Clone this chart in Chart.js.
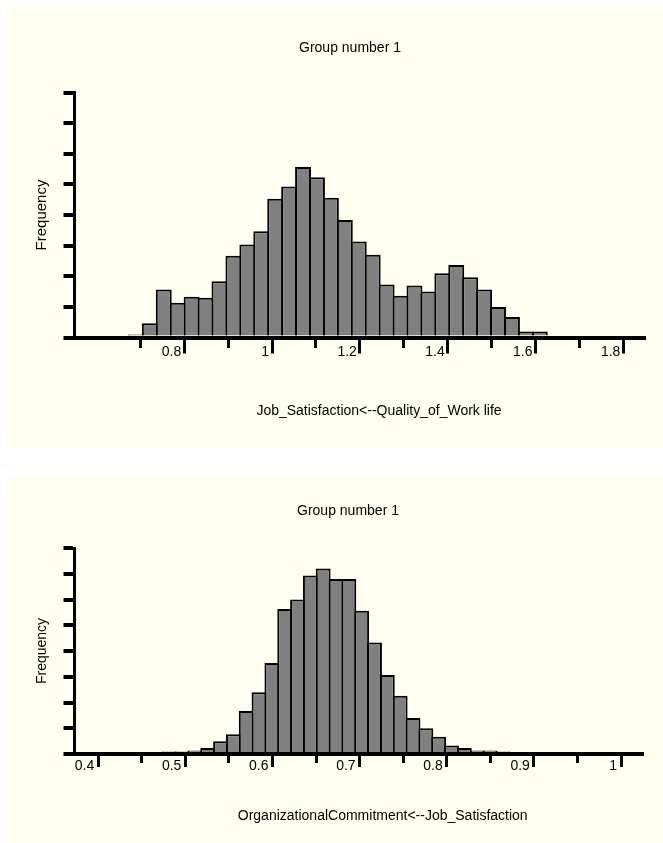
<!DOCTYPE html>
<html>
<head>
<meta charset="utf-8">
<title>Group number 1</title>
<script src="https://cdn.jsdelivr.net/npm/chart.js@4.4.1/dist/chart.umd.min.js"></script>
<style>
  html, body { margin: 0; padding: 0; background: #fff; }
  body { width: 663px; height: 843px; position: relative; overflow: hidden; }
  .panel { position: absolute; left: 7px; width: 656px; background: #fffff0; }
  #panel1 { top: 8px; height: 439px; }
  #panel2 { top: 477px; height: 366px; }
  canvas { display: block; }
</style>
</head>
<body>
<div class="panel" id="panel1"><canvas id="chart1" width="656" height="439"></canvas></div>
<div class="panel" id="panel2"><canvas id="chart2" width="656" height="366"></canvas></div>
<script>
// shared texts
const groupTitle = 'Group number 1';
const yTitle = 'Frequency';
const yTicks = [0, 30, 60, 90, 120, 150, 180, 210, 240];

// histogram 1
const xTitle1 = 'Job_Satisfaction<--Quality_of_Work life';
const binStart1 = 0.674;
const binWidth1 = 0.03172;
const freq1 = [3, 14, 47, 34, 40, 39, 55, 80, 91, 104, 136, 148, 167, 157, 137,
               115, 94, 81, 52, 41, 51, 45, 63, 71, 59, 47, 30, 20, 6, 6];
const xTicks1 = [0.7, 0.8, 0.9, 1.0, 1.1, 1.2, 1.3, 1.4, 1.5, 1.6, 1.7, 1.8];
const xTickLabels1 = ['', '0.8', '', '1', '', '1.2', '', '1.4', '', '1.6', '', '1.8'];

// histogram 2
const xTitle2 = 'OrganizationalCommitment<--Job_Satisfaction';
const binStart2 = 0.4593;
const binWidth2 = 0.01473;
const freq2 = [2, 3, 3, 4, 7, 15, 23, 50, 72, 106, 169, 180, 208, 216, 204,
               204, 167, 130, 92, 68, 42, 30, 20, 10, 7, 4, 4, 3, 2, 2];
const xTicks2 = [0.4, 0.45, 0.5, 0.55, 0.6, 0.65, 0.7, 0.75, 0.8, 0.85, 0.9, 0.95, 1.0];
const xTickLabels2 = ['0.4', '', '0.5', '', '0.6', '', '0.7', '', '0.8', '', '0.9', '', '1'];

Chart.defaults.font.family = '"Liberation Sans", Arial, Helvetica, sans-serif';
Chart.defaults.color = '#000';

// title above the plot and axis caption below it (not centred on the plot area in the original)
const panelTitles = {
    id: 'panelTitles',
    afterDraw(chart, args, opts) {
        const { ctx, chartArea } = chart;
        const mid = (chartArea.left + chartArea.right) / 2;
        ctx.save();
        ctx.fillStyle = '#000';
        ctx.font = '14px "Liberation Sans", Arial, sans-serif';
        ctx.textAlign = 'center';
        ctx.textBaseline = 'alphabetic';
        ctx.fillText(opts.top, mid + opts.topDx, chartArea.top - opts.topGap);
        ctx.fillText(opts.bottom, mid + opts.bottomDx, chartArea.bottom + opts.bottomGap);
        ctx.restore();
    }
};

function makeHistogram(canvasId, s) {
    const points = s.freq.map((f, i) => ({ x: s.binStart + (i + 0.5) * s.binWidth, y: f }));

    return new Chart(document.getElementById(canvasId), {
        type: 'bar',
        data: {
            datasets: [{
                data: points,
                backgroundColor: '#808080',
                borderColor: '#000',
                borderWidth: { top: 2, left: 2, right: 2, bottom: 0 },
                borderSkipped: 'start',
                barPercentage: s.barPercentage,
                categoryPercentage: 1,
            }],
        },
        options: {
            responsive: false,
            animation: false,
            events: [],
            layout: { padding: s.padding },
            plugins: {
                legend: { display: false },
                tooltip: { enabled: false },
                panelTitles: s.titles,
            },
            scales: {
                x: {
                    type: 'linear',
                    min: s.min,
                    max: s.max,
                    offset: false,
                    afterBuildTicks: (scale) => {
                        scale.ticks = s.xTicks.map(v => ({ value: v }));
                    },
                    grid: {
                        offset: false,
                        drawOnChartArea: false,
                        tickLength: s.tickLength,
                        tickWidth: 3,
                        lineWidth: 3,
                        tickColor: '#000',
                        // short ticks between the labelled ones
                        tickBorderDash: (ctx) => s.xTickLabels[ctx.index] ? [] : [s.minorTick, 40],
                    },
                    border: { display: true, width: 4, color: '#000', z: 1 },
                    // empty title only keeps room under the labels (they sit beside the ticks)
                    title: { display: true, text: '', padding: 0 },
                    ticks: {
                        autoSkip: false,
                        maxRotation: 0,
                        minRotation: 0,
                        align: 'end',
                        labelOffset: s.labelOffset,
                        padding: s.tickPadding,
                        color: '#000',
                        font: { size: 14 },
                        callback: (v, i) => s.xTickLabels[i],
                    },
                },
                y: {
                    min: 0,
                    max: 240,
                    afterBuildTicks: (scale) => {
                        scale.ticks = yTicks.map(v => ({ value: v }));
                    },
                    grid: {
                        drawOnChartArea: false,
                        tickLength: 11,
                        tickWidth: 4,
                        lineWidth: 4,
                        tickColor: '#000',
                    },
                    border: { display: true, width: 3, color: '#000', z: 1 },
                    ticks: { display: false },
                    title: {
                        display: true,
                        text: yTitle,
                        color: '#000',
                        font: { size: s.yTitleSize },
                        padding: { top: 0, bottom: s.yTitlePad },
                    },
                },
            },
        },
        plugins: [panelTitles],
    });
}

makeHistogram('chart1', {
    freq: freq1, binStart: binStart1, binWidth: binWidth1,
    xTicks: xTicks1, xTickLabels: xTickLabels1,
    min: 0.55, max: 1.847,
    padding: { left: 26, right: 19, top: 84.5, bottom: 82.1 },
    tickLength: 16, minorTick: 8, tickPadding: -9.9, labelOffset: -3,
    yTitleSize: 15, yTitlePad: 12.5,
    barPercentage: 1.1436,
    titles: { top: groupTitle, topDx: -9.25, topGap: 40.5, bottom: xTitle1, bottomDx: 19.75, bottomGap: 77.5 },
});

makeHistogram('chart2', {
    freq: freq2, binStart: binStart2, binWidth: binWidth2,
    xTicks: xTicks2, xTickLabels: xTickLabels2,
    min: 0.3727, max: 1.0249,
    padding: { left: 26.6, right: 20.3, top: 71, bottom: 63.8 },
    tickLength: 13, minorTick: 7, tickPadding: -9.5, labelOffset: -4,
    yTitleSize: 14, yTitlePad: 13.1,
    barPercentage: 1.1559,
    titles: { top: groupTitle, topDx: -10.6, topGap: 33, bottom: xTitle2, bottomDx: 24.1, bottomGap: 65.5 },
});
</script>
</body>
</html>
